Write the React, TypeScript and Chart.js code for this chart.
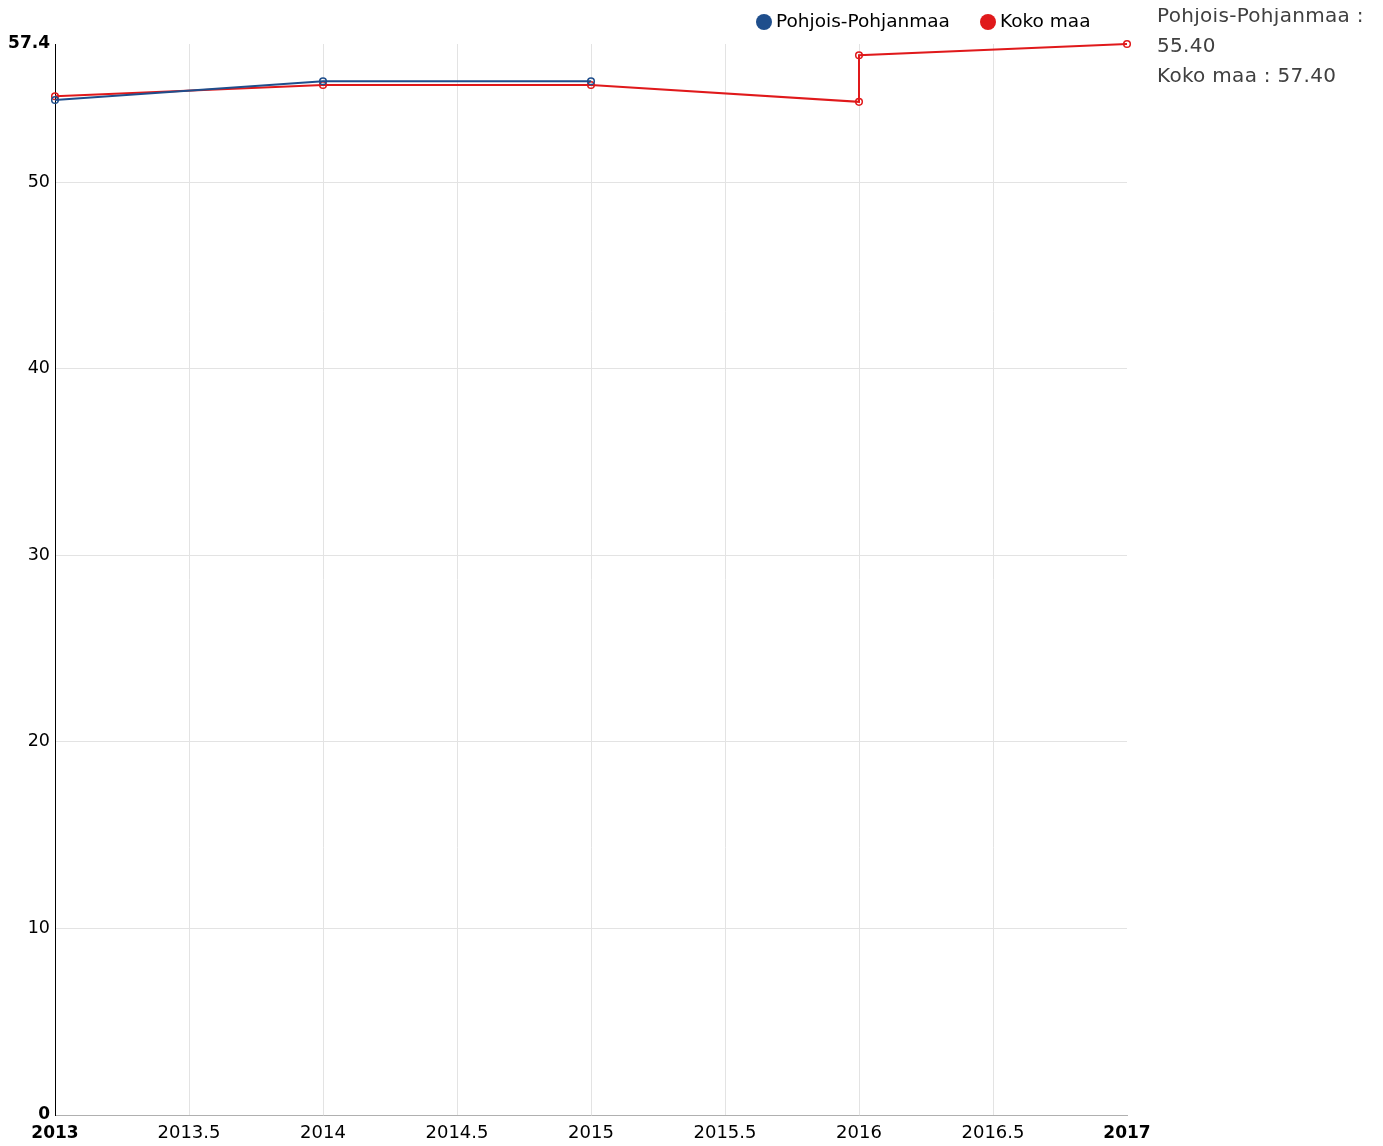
import React, { useEffect, useRef } from "react";
import { Chart, registerables } from "chart.js";

Chart.register(...registerables);

const seriesNames = ["Pohjois-Pohjanmaa", "Koko maa"];
const seriesColors = ["#1f4e8c", "#e0191b"];
const pohjoisYears = [2013, 2014, 2015];
const pohjoisValues = [54.4, 55.4, 55.4];
const kokoYears = [2013, 2014, 2015, 2016, 2016, 2017];
const kokoValues = [54.6, 55.2, 55.2, 54.3, 56.8, 57.4];
const yTicks = [0, 10, 20, 30, 40, 50, 57.4];
const xMin = 2013;
const xMax = 2017;
const xStep = 0.5;
const tooltipLines = ["Pohjois-Pohjanmaa :", "55.40", "Koko maa : 57.40"];

const FONT = "'DejaVu Sans', sans-serif";

const legendPlugin = {
  id: "customLegend",
  afterDraw(chart: any) {
    const ctx = chart.ctx;
    ctx.save();
    ctx.font = `18.5px ${FONT}`;
    ctx.textBaseline = "middle";
    ctx.textAlign = "left";
    const items = [
      { x: 756, label: seriesNames[0], color: seriesColors[0] },
      { x: 980, label: seriesNames[1], color: seriesColors[1] },
    ];
    items.forEach((it) => {
      ctx.beginPath();
      ctx.arc(it.x, 14, 8, 0, Math.PI * 2);
      ctx.fillStyle = it.color;
      ctx.fill();
      ctx.fillStyle = "#000";
      ctx.fillText(it.label, it.x + 12, 14);
    });
    ctx.restore();
  },
};

const isX = (v: number) => v === xMin || v === xMax;
const isY = (v: number) => v === 0 || v === 57.4;

export default function App() {
  const ref = useRef<HTMLCanvasElement>(null);
  useEffect(() => {
    if (!ref.current) return;
    const mk = (label: string, xs: number[], ys: number[], color: string) => ({
      label,
      data: xs.map((x, i) => ({ x, y: ys[i] })),
      borderColor: color,
      backgroundColor: "#fff",
      pointBorderColor: color,
      pointBackgroundColor: "rgba(255,255,255,0)",
      pointRadius: 3.3,
      pointBorderWidth: 1.5,
      borderWidth: 2,
      tension: 0,
      clip: false,
    });
    const chart = new Chart(ref.current, {
      type: "line",
      data: {
        datasets: [
          mk(seriesNames[0], pohjoisYears, pohjoisValues, seriesColors[0]),
          mk(seriesNames[1], kokoYears, kokoValues, seriesColors[1]),
        ],
      },
      options: {
        animation: false,
        responsive: false,
        maintainAspectRatio: false,
        layout: { padding: { top: 36, right: 248, left: 0, bottom: 0 } },
        plugins: { legend: { display: false }, tooltip: { enabled: false } },
        scales: {
          x: {
            type: "linear",
            min: xMin,
            max: xMax,
            afterBuildTicks: (scale: any) => {
              const t = [];
              for (let v = xMin; v <= xMax + 1e-9; v += xStep) t.push({ value: v });
              scale.ticks = t;
            },
            afterFit: (scale: any) => {
              scale.height = 23;
            },
            border: { display: true, color: "#b0b0b0", width: 1 },
            grid: {
              drawTicks: false,
              color: (c: any) => (c.tick && isX(c.tick.value) ? "rgba(0,0,0,0)" : "#e3e3e3"),
            },
            ticks: {
              padding: 8,
              color: "#000",
              maxRotation: 0,
              autoSkip: false,
              callback: (v: any) => String(v),
              font: (c: any) => {
                const b = c.tick && isX(c.tick.value);
                return { family: FONT, size: b ? 17 : 18, weight: b ? "bold" : "normal" };
              },
            },
          },
          y: {
            type: "linear",
            min: 0,
            max: 57.4,
            afterBuildTicks: (scale: any) => {
              scale.ticks = yTicks.map((v) => ({ value: v }));
            },
            afterFit: (scale: any) => {
              scale.width = 47;
            },
            border: { display: true, color: "#000", width: 1 },
            grid: {
              drawTicks: false,
              color: (c: any) => (c.tick && isY(c.tick.value) ? "rgba(0,0,0,0)" : "#e3e3e3"),
            },
            ticks: {
              padding: 5,
              color: "#000",
              autoSkip: false,
              callback: (v: any) => String(v),
              font: (c: any) => {
                const b = c.tick && isY(c.tick.value);
                return { family: FONT, size: b ? 17 : 17.5, weight: b ? "bold" : "normal" };
              },
            },
          },
        },
      },
      plugins: [legendPlugin],
    } as any);
    return () => chart.destroy();
  }, []);

  return (
    <div style={{ position: "relative", width: 1367, height: 1130 }}>
      <canvas ref={ref} width={1367} height={1130} style={{ display: "block" }} />
      {tooltipLines.map((l, i) => (
        <div
          key={i}
          style={{
            position: "absolute",
            left: 1149,
            top: -6 + i * 30,
            whiteSpace: "nowrap",
            fontFamily: FONT,
            fontSize: 20,
            letterSpacing: "0.3px",
            lineHeight: "26px",
            color: "#404040",
          }}
        >
          {l}
        </div>
      ))}
    </div>
  );
}
